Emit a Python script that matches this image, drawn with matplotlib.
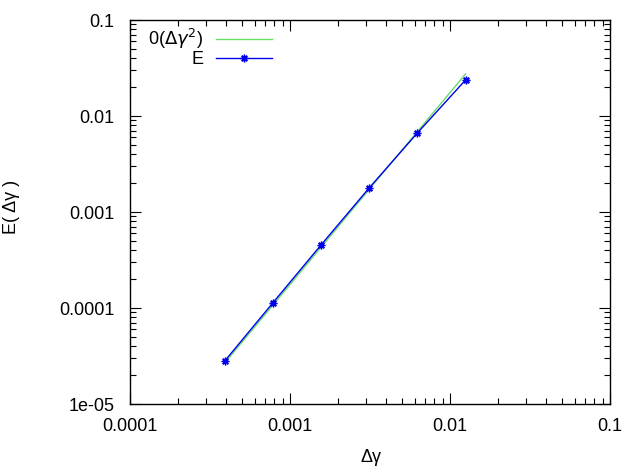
import matplotlib
matplotlib.use("Agg")
import matplotlib.pyplot as plt
from matplotlib.ticker import LogLocator, FixedLocator, NullFormatter

plt.rcParams['font.family'] = ['Liberation Sans', 'DejaVu Sans']

dgamma = [0.000390625, 0.00078125, 0.0015625, 0.003125, 0.00625, 0.0125]
order2 = [2.68e-5, 1.07e-4, 4.29e-4, 1.72e-3, 6.86e-3, 2.74e-2]
err = [2.8e-5, 1.13e-4, 4.53e-4, 1.78e-3, 6.65e-3, 2.37e-2]

xticks = [1e-4, 1e-3, 1e-2, 1e-1]
xticklabels = ["0.0001", "0.001", "0.01", "0.1"]
yticks = [1e-5, 1e-4, 1e-3, 1e-2, 1e-1]
yticklabels = ["1e-05", "0.0001", "0.001", "0.01", "0.1"]

fig = plt.figure(figsize=(6.22, 4.70), dpi=100)
ax = fig.add_axes([130/622, 1-404/470, 480/622, 384/470])

ax.plot(dgamma, order2, color='#66dd66', lw=1.0, label=r"0($\Delta\gamma^2$)")
ax.plot(dgamma, err, color='#0000ee', lw=1.0, marker=(8, 2, 0), ms=5.5, mew=1.0, label="E")

ax.set_xscale('log')
ax.set_yscale('log')
ax.set_xlim(1e-4, 1e-1)
ax.set_ylim(1e-5, 1e-1)
ax.xaxis.set_major_locator(FixedLocator(xticks))
ax.set_xticklabels(xticklabels)
ax.yaxis.set_major_locator(FixedLocator(yticks))
ax.set_yticklabels(yticklabels)
ax.xaxis.set_minor_locator(LogLocator(base=10, subs=range(2, 10)))
ax.yaxis.set_minor_locator(LogLocator(base=10, subs=range(2, 10)))
ax.xaxis.set_minor_formatter(NullFormatter())
ax.yaxis.set_minor_formatter(NullFormatter())
ax.tick_params(which='both', direction='in', top=True, right=True, labelsize=13, width=0.8)
ax.tick_params(which='major', length=8)
ax.tick_params(axis='y', which='major', pad=11)
ax.tick_params(axis='x', which='major', pad=10)
ax.tick_params(which='minor', length=4)
for s in ax.spines.values():
    s.set_linewidth(1.0)

ax.set_xlabel("Δγ", fontsize=13)
ax.xaxis.set_label_coords((371 - 130) / 480, (404 - 458) / 384)
ax.xaxis.label.set_va('center')
ax.set_ylabel("E( Δγ )", fontsize=13)
ax.yaxis.set_label_coords((12 - 130) / 480, (404 - 207) / 384)
ax.yaxis.label.set_va('center')

leg = ax.legend(loc='upper right', bbox_to_anchor=(272/622, 1-27/470),
                bbox_transform=fig.transFigure, frameon=False, fontsize=13,
                markerfirst=False, handlelength=3.1, handletextpad=0.7, labelspacing=0.0,
                borderpad=0.0, borderaxespad=0.0)
for t in leg.get_texts():
    t.set_ha('right')

fig.savefig("out.png", dpi=100)
